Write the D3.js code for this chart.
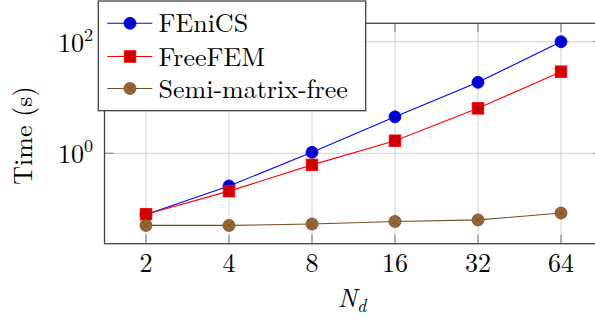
<!DOCTYPE html>
<html>
<head>
<meta charset="utf-8">
<script src="https://cdn.jsdelivr.net/npm/d3@7"></script>
<style>
  html, body { margin: 0; padding: 0; background: #ffffff; overflow: hidden; }
</style>
</head>
<body>
<div id="chart"></div>
<script>
// Data
const nd = [2, 4, 8, 16, 32, 64];
const fenics = [0.08, 0.26, 1.04, 4.5, 18.7, 100];
const freefem = [0.081, 0.21, 0.62, 1.68, 6.4, 29];
const semiMatrixFree = [0.051, 0.051, 0.054, 0.060, 0.064, 0.085];
const seriesNames = ['FEniCS', 'FreeFEM', 'Semi-matrix-free'];
const xTicks = [2, 4, 8, 16, 32, 64];
const yTicks = [1, 100];
const yTickExp = ['0', '2'];

const W = 595, H = 322;
const plot = { left: 104.5, right: 602.5, top: 23.3, bottom: 243.7 };
const FONT = '"Latin Modern Roman", "Liberation Serif", serif';
const FS = 26;

const svg = d3.select('#chart')
  .append('svg')
  .attr('width', W)
  .attr('height', H);

function label(sel) {
  return sel.style('font-family', FONT).style('font-size', FS + 'px').attr('fill', '#000');
}

// Scales
const x = d3.scaleLog().base(2)
  .domain([Math.pow(2, 0.5), Math.pow(2, 6.5)])
  .range([plot.left, plot.right]);

const y = d3.scaleLog()
  .domain([Math.pow(10, -1.62), Math.pow(10, 2.33)])
  .range([plot.bottom, plot.top]);

// Grid
const grid = svg.append('g').attr('class', 'grid');
grid.selectAll('line.gx')
  .data(xTicks)
  .join('line')
  .attr('x1', d => x(d)).attr('x2', d => x(d))
  .attr('y1', plot.top).attr('y2', plot.bottom)
  .attr('stroke', '#d0d0d0').attr('stroke-width', 1);
grid.selectAll('line.gy')
  .data(yTicks)
  .join('line')
  .attr('x1', plot.left).attr('x2', plot.right)
  .attr('y1', d => y(d)).attr('y2', d => y(d))
  .attr('stroke', '#d0d0d0').attr('stroke-width', 1);

// Inward ticks on all sides
const tickLen = 9;
const ticks = svg.append('g').attr('stroke', '#888').attr('stroke-width', 1.2);
xTicks.forEach(t => {
  ticks.append('line').attr('x1', x(t)).attr('x2', x(t))
    .attr('y1', plot.bottom).attr('y2', plot.bottom - tickLen);
  ticks.append('line').attr('x1', x(t)).attr('x2', x(t))
    .attr('y1', plot.top).attr('y2', plot.top + tickLen);
});
yTicks.forEach(t => {
  ticks.append('line').attr('x1', plot.left).attr('x2', plot.left + tickLen)
    .attr('y1', y(t)).attr('y2', y(t));
  ticks.append('line').attr('x1', plot.right).attr('x2', plot.right - tickLen)
    .attr('y1', y(t)).attr('y2', y(t));
});

// Frame
svg.append('rect')
  .attr('x', plot.left).attr('y', plot.top)
  .attr('width', plot.right - plot.left)
  .attr('height', plot.bottom - plot.top)
  .attr('fill', 'none')
  .attr('stroke', '#444')
  .attr('stroke-width', 1.3);

// Tick labels
svg.selectAll('text.xtick')
  .data(xTicks)
  .join('text')
  .attr('class', 'xtick')
  .attr('x', d => x(d))
  .attr('y', 272)
  .attr('text-anchor', 'middle')
  .call(label)
  .text(d => d);

yTicks.forEach((t, i) => {
  const lbl = svg.append('text')
    .attr('x', 93)
    .attr('y', y(t) + 10)
    .attr('text-anchor', 'end')
    .call(label);
  lbl.append('tspan').text('10');
  lbl.append('tspan').attr('dy', -11).style('font-size', '18px').text(yTickExp[i]);
});

// Axis labels
svg.append('text')
  .attr('transform', 'translate(32,135.5) rotate(-90)')
  .attr('text-anchor', 'middle')
  .call(label)
  .text('Time (s)');

const xl = svg.append('text')
  .attr('x', 352)
  .attr('y', 307)
  .attr('text-anchor', 'middle')
  .call(label)
  .style('font-style', 'italic');
xl.append('tspan').text('N');
xl.append('tspan').attr('dy', 5).style('font-size', '18px').text('d');

// Series
const series = [
  { name: seriesNames[0], values: fenics, line: '#0000ff', fill: '#0000cc', mark: 'circle' },
  { name: seriesNames[1], values: freefem, line: '#ff0000', fill: '#cc0000', mark: 'square' },
  { name: seriesNames[2], values: semiMatrixFree, line: '#734d26', fill: '#996633', mark: 'otimes' }
];

const line = d3.line()
  .x(d => x(d[0]))
  .y(d => y(d[1]));

function drawMark(g, cx, cy, s) {
  if (s.mark === 'circle') {
    g.append('circle').attr('cx', cx).attr('cy', cy).attr('r', 6)
      .attr('fill', s.fill).attr('stroke', s.line).attr('stroke-width', 0.8);
  } else if (s.mark === 'square') {
    g.append('rect').attr('x', cx - 5.8).attr('y', cy - 5.8)
      .attr('width', 11.6).attr('height', 11.6)
      .attr('fill', s.fill).attr('stroke', s.line).attr('stroke-width', 0.8);
  } else {
    g.append('circle').attr('cx', cx).attr('cy', cy).attr('r', 6)
      .attr('fill', s.fill).attr('stroke', s.line).attr('stroke-width', 0.8);
    const r = 6 * Math.SQRT1_2;
    g.append('path')
      .attr('d', `M${cx - r},${cy - r}L${cx + r},${cy + r}M${cx - r},${cy + r}L${cx + r},${cy - r}`)
      .attr('stroke', s.line).attr('stroke-width', 0.8);
  }
}

series.forEach(s => {
  const pts = nd.map((n, i) => [n, s.values[i]]);
  svg.append('path')
    .datum(pts)
    .attr('fill', 'none')
    .attr('stroke', s.line)
    .attr('stroke-width', 1.1)
    .attr('d', line);
  const g = svg.append('g');
  pts.forEach(p => drawMark(g, x(p[0]), y(p[1]), s));
});

// Legend
const legend = svg.append('g').attr('class', 'legend');
legend.append('rect')
  .attr('x', 98.3).attr('y', 1)
  .attr('width', 267.4).attr('height', 109.7)
  .attr('fill', '#fff')
  .attr('stroke', '#444')
  .attr('stroke-width', 1.3);

const rowY = [23.3, 56.5, 88.5];
series.forEach((s, i) => {
  const ly = rowY[i];
  legend.append('line')
    .attr('x1', 107.3).attr('x2', 152.3)
    .attr('y1', ly).attr('y2', ly)
    .attr('stroke', s.line).attr('stroke-width', 1.1);
  drawMark(legend, 130, ly, s);
  legend.append('text')
    .attr('x', 158.5)
    .attr('y', ly + 9)
    .call(label)
    .text(s.name);
});
</script>
</body>
</html>
